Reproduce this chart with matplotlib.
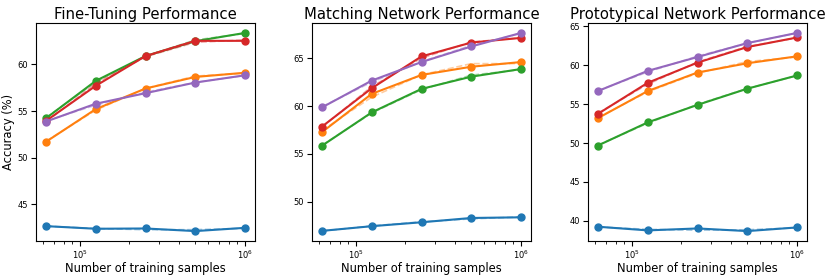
import numpy as np
import matplotlib.pyplot as plt

samples = [62500, 125000, 250000, 500000, 1000000]
colors = ["tab:blue", "tab:orange", "tab:green", "tab:red", "tab:purple"]

# fine-tuning
ft_blue = [42.66, 42.38, 42.41, 42.13, 42.48]
ft_orange = [51.7, 55.2, 57.41, 58.65, 59.1]
ft_green = [54.22, 58.23, 60.89, 62.48, 63.37]
ft_red = [53.94, 57.7, 60.89, 62.52, 62.52]
ft_purple = [53.87, 55.78, 56.91, 58.05, 58.83]

# matching network
mn_blue = [46.95, 47.44, 47.85, 48.30, 48.37]
mn_orange = [57.28, 61.29, 63.27, 64.13, 64.62]
mn_green = [55.86, 59.35, 61.81, 63.09, 63.89]
mn_red = [57.86, 61.88, 65.21, 66.66, 67.15]
mn_purple = [59.87, 62.68, 64.62, 66.25, 67.67]

# prototypical network
pn_blue = [39.24, 38.77, 39.02, 38.68, 39.15]
pn_orange = [53.2, 56.68, 59.06, 60.25, 61.14]
pn_green = [49.68, 52.65, 54.9, 56.98, 58.68]
pn_red = [53.75, 57.74, 60.33, 62.33, 63.56]
pn_purple = [56.68, 59.27, 61.05, 62.84, 64.15]

panels = [
    ("Fine-Tuning Performance", [ft_blue, ft_orange, ft_green, ft_red, ft_purple]),
    ("Matching Network Performance", [mn_blue, mn_orange, mn_green, mn_red, mn_purple]),
    ("Prototypical Network Performance", [pn_blue, pn_orange, pn_green, pn_red, pn_purple]),
]

fig = plt.figure(figsize=(8.3, 2.77), dpi=100)
lefts = [36, 312, 588]
x = np.array(samples)
for i, (title, series) in enumerate(panels):
    ax = fig.add_axes([lefts[i] / 830, 36 / 277, 219 / 830, 218 / 277])
    for s, c in zip(series, colors):
        # trend line (quadratic fit in log x)
        p = np.polyfit(np.log10(x), s, 2)
        ax.plot(x, np.polyval(p, np.log10(x)), "--", color=c, alpha=0.4, linewidth=1.2)
        ax.plot(x, s, "-o", color=c, markersize=5, linewidth=1.5)
    ax.set_xscale("log")
    ax.set_title(title, fontsize=10.7, pad=3)
    ax.set_xlabel("Number of training samples", fontsize=8.3, labelpad=1)
    ax.tick_params(labelsize=6, pad=2)
    if i == 0:
        ax.set_ylabel("Accuracy (%)", fontsize=8.3, labelpad=2)

plt.savefig("out.png", dpi=100)
